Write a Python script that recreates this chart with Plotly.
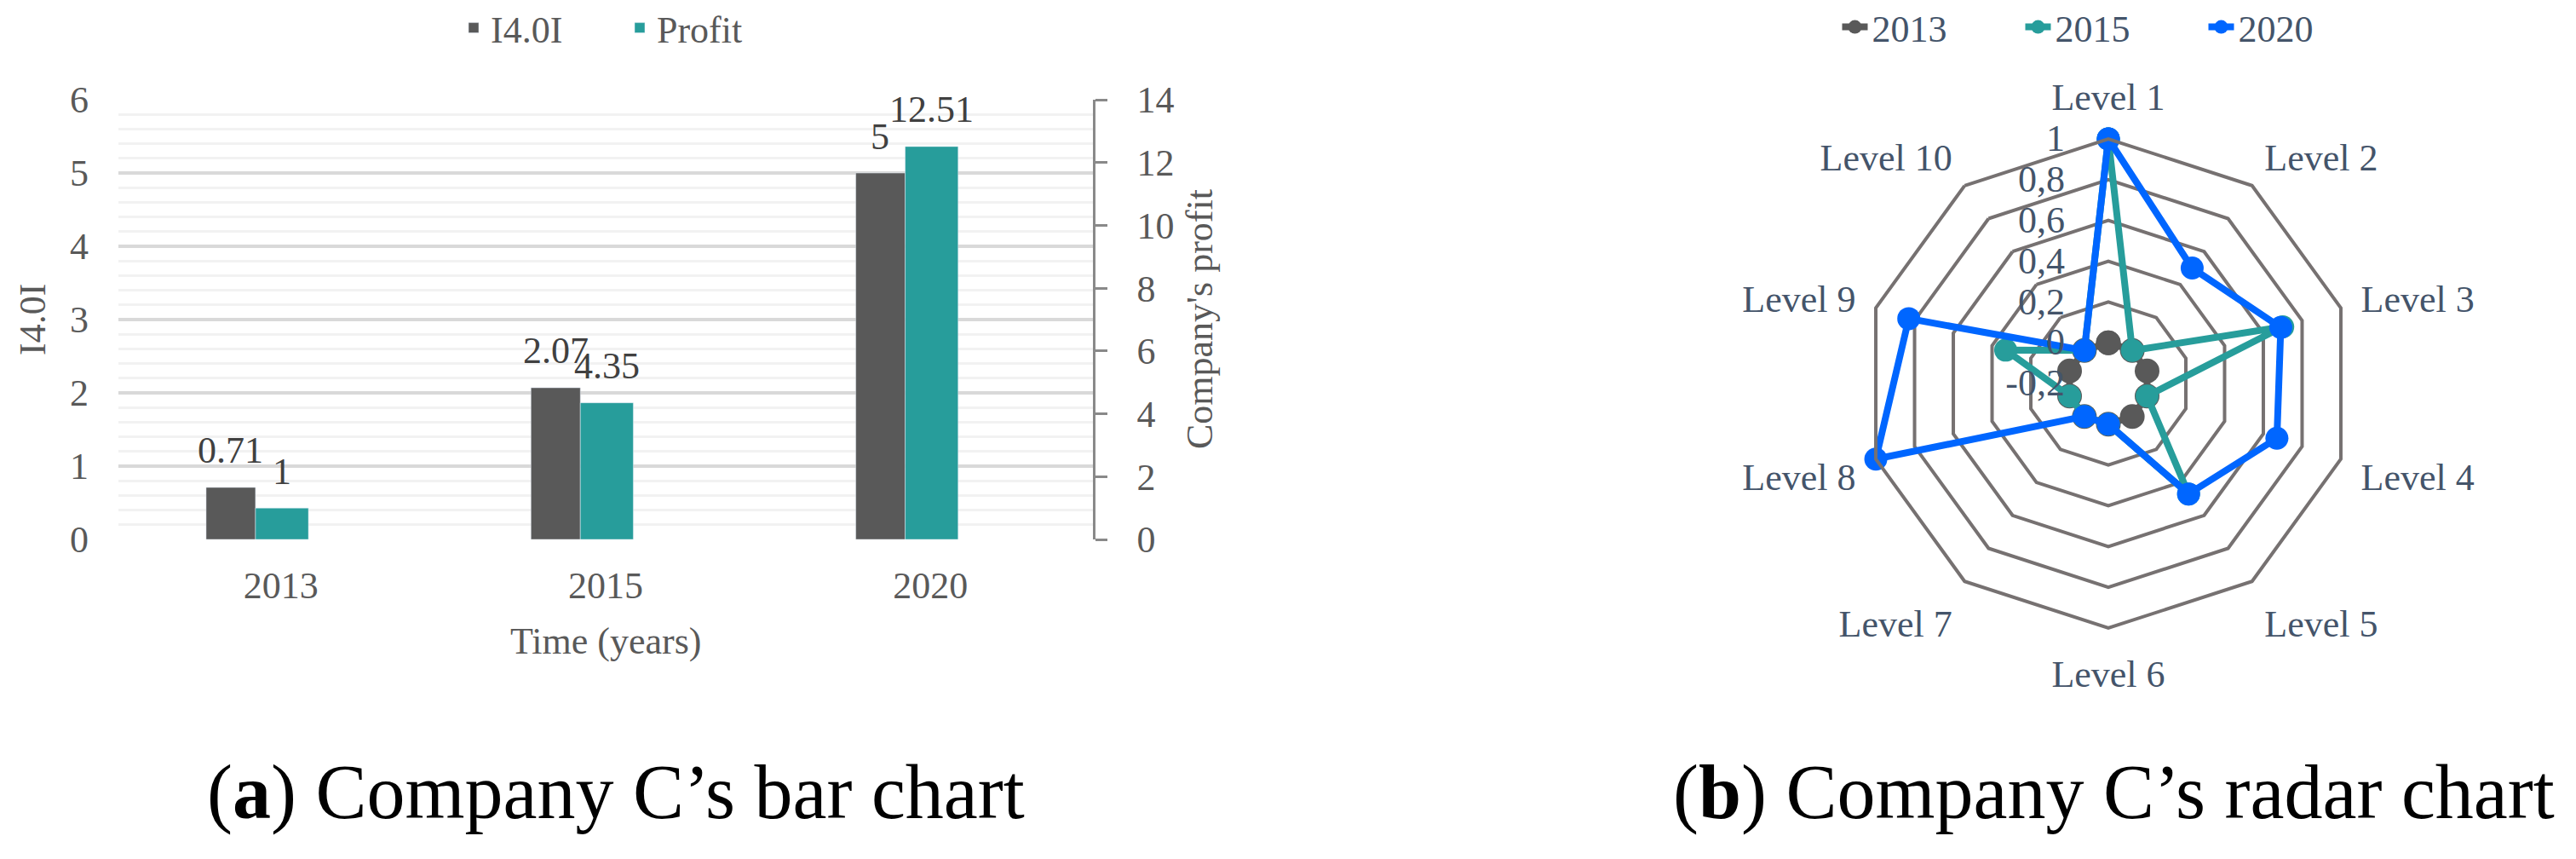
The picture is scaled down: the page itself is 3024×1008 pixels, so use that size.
import plotly.graph_objects as go

W, H = 3024, 1008
FONT = "Liberation Serif"

# ---------- data ----------
years = ["2013", "2015", "2020"]
i40i = [0.71, 2.07, 5]
profit = [1, 4.35, 12.51]

levels = ["Level 1", "Level 2", "Level 3", "Level 4", "Level 5",
          "Level 6", "Level 7", "Level 8", "Level 9", "Level 10"]
r2013 = [0, 0, 0, 0, 0, 0, 0, 0, 0, 0]
r2015 = [1, 0, 0.7, 0, 0.47, 0, 0, 0, 0.33, 0]
r2020 = [1, 0.5, 0.69, 0.67, 0.47, 0, 0, 1, 0.83, 0]

radial_min, radial_max = -0.2, 1
radial_ticks = [-0.2, 0, 0.2, 0.4, 0.6, 0.8, 1]
radial_ticktext = ["-0,2", "0", "0,2", "0,4", "0,6", "0,8", "1"]

GRAY = "#595959"
TEAL = "#279d9b"
BLUE = "#0066ff"
RING = "#767171"
SLATE = "#44546a"

def px(x):
    return x / W

def py(y):
    return 1 - y / H

xpos = list(range(len(years)))

fig = go.Figure()

# ---------- bar chart ----------
fig.add_trace(go.Bar(x=xpos, y=i40i, name="I4.0I", marker_color=GRAY,
                     offset=-0.23, width=0.152, legend="legend",
                     xaxis="x", yaxis="y"))
fig.add_trace(go.Bar(x=xpos, y=profit, name="Profit", marker_color=TEAL,
                     offset=-0.078, width=0.163, legend="legend",
                     xaxis="x", yaxis="y2"))

annotations = []
for xi, v in zip(xpos, i40i):
    annotations.append(dict(x=xi, y=v, xref="x", yref="y", text=f"{v:g}",
                            showarrow=False, xshift=-59, yshift=43,
                            xanchor="center", yanchor="middle",
                            font=dict(family=FONT, size=44, color="#404040")))
for xi, v in zip(xpos, profit):
    annotations.append(dict(x=xi, y=v, xref="x", yref="y2", text=f"{v:g}",
                            showarrow=False, xshift=1, yshift=43,
                            xanchor="center", yanchor="middle",
                            font=dict(family=FONT, size=44, color="#404040")))

# axis titles
annotations.append(dict(x=px(38), y=py(375), xref="paper", yref="paper",
                        text="I4.0I", textangle=-90, showarrow=False,
                        xanchor="center", yanchor="middle",
                        font=dict(family=FONT, size=44, color=GRAY)))
annotations.append(dict(x=px(1408), y=py(375), xref="paper", yref="paper",
                        text="Company's profit", textangle=-90, showarrow=False,
                        xanchor="center", yanchor="middle",
                        font=dict(family=FONT, size=44, color=GRAY)))
annotations.append(dict(x=px(711), y=py(752), xref="paper", yref="paper",
                        text="Time (years)", showarrow=False,
                        xanchor="center", yanchor="middle",
                        font=dict(family=FONT, size=44, color=GRAY)))
# captions
annotations.append(dict(x=px(723), y=py(930), xref="paper", yref="paper",
                        text="(<b>a</b>) Company C\u2019s bar chart", showarrow=False,
                        xanchor="center", yanchor="middle",
                        font=dict(family=FONT, size=90, color="black")))
annotations.append(dict(x=px(2481), y=py(930), xref="paper", yref="paper",
                        text="(<b>b</b>) Company C\u2019s radar chart", showarrow=False,
                        xanchor="center", yanchor="middle",
                        font=dict(family=FONT, size=90, color="black")))

# ---------- radar chart ----------
# radial values are measured from the axis minimum (the chart centre is -0.2)
for name, vals, col, msize in [("2013", r2013, GRAY, 29),
                               ("2015", r2015, TEAL, 27),
                               ("2020", r2020, BLUE, 27)]:
    rr = [v - radial_min for v in vals]
    fig.add_trace(go.Scatterpolar(
        r=rr + [rr[0]], theta=levels + [levels[0]], name=name,
        mode="lines+markers", line=dict(color=col, width=8),
        marker=dict(color=col, size=msize), cliponaxis=False,
        legend="legend2", subplot="polar"))

fig.update_layout(
    width=W, height=H,
    margin=dict(l=0, r=0, t=0, b=0, autoexpand=False),
    paper_bgcolor="white", plot_bgcolor="white",
    font=dict(family=FONT, size=44, color=GRAY),
    barmode="overlay",
    showlegend=True,
    xaxis=dict(domain=[px(139), px(1283)], range=[-0.5, 2.5],
               tickmode="array", tickvals=xpos, ticktext=years,
               showgrid=False, showline=False, zeroline=False, ticks="",
               ticklabelstandoff=24,
               tickfont=dict(family=FONT, size=44, color=GRAY)),
    yaxis=dict(domain=[py(633), py(117)], range=[0, 6], dtick=1,
               showgrid=True, gridcolor="#d9d9d9", gridwidth=3.5,
               minor=dict(dtick=0.2, showgrid=True, gridcolor="#f2f2f2", gridwidth=3),
               zeroline=False, showline=False, ticks="",
               ticklabelstandoff=34,
               tickfont=dict(family=FONT, size=44, color=GRAY)),
    yaxis2=dict(overlaying="y", side="right", range=[0, 14], dtick=2,
                showgrid=False, zeroline=False, showline=True,
                linecolor="#898989", linewidth=2.5,
                ticks="outside", ticklen=14, tickwidth=2.5, tickcolor="#898989",
                ticklabelstandoff=26,
                tickfont=dict(family=FONT, size=44, color=GRAY)),
    polar=dict(
        domain=dict(x=[px(2188), px(2762)], y=[py(737), py(163)]),
        bgcolor="white",
        gridshape="linear",
        radialaxis=dict(range=[0, radial_max - radial_min],
                        tickvals=[t - radial_min for t in radial_ticks],
                        ticktext=[t + "\u2003" for t in radial_ticktext],
                        angle=90, tickangle=90,
                        side="counterclockwise",
                        showline=False, ticks="",
                        showgrid=True, gridcolor=RING, gridwidth=4,
                        tickfont=dict(family=FONT, size=44, color=SLATE)),
        angularaxis=dict(rotation=90, direction="clockwise",
                         categoryorder="array", categoryarray=levels,
                         showline=True, linecolor=RING, linewidth=4,
                         showgrid=False, ticks="outside", ticklen=14,
                         tickcolor="rgba(0,0,0,0)",
                         tickfont=dict(family=FONT, size=44, color=SLATE)),
    ),
    legend=dict(orientation="h", x=px(731), y=py(33), xanchor="center", yanchor="middle",
                font=dict(family=FONT, size=44, color=GRAY),
                entrywidth=150, bgcolor="rgba(0,0,0,0)"),
    legend2=dict(orientation="h", x=px(2480), y=py(32), xanchor="center", yanchor="middle",
                 font=dict(family=FONT, size=44, color=SLATE),
                 entrywidth=170, bgcolor="rgba(0,0,0,0)"),
    annotations=annotations,
)

fig.write_html("out.html", config={"displayModeBar": False},
               post_script="document.body.style.margin='0px';")
